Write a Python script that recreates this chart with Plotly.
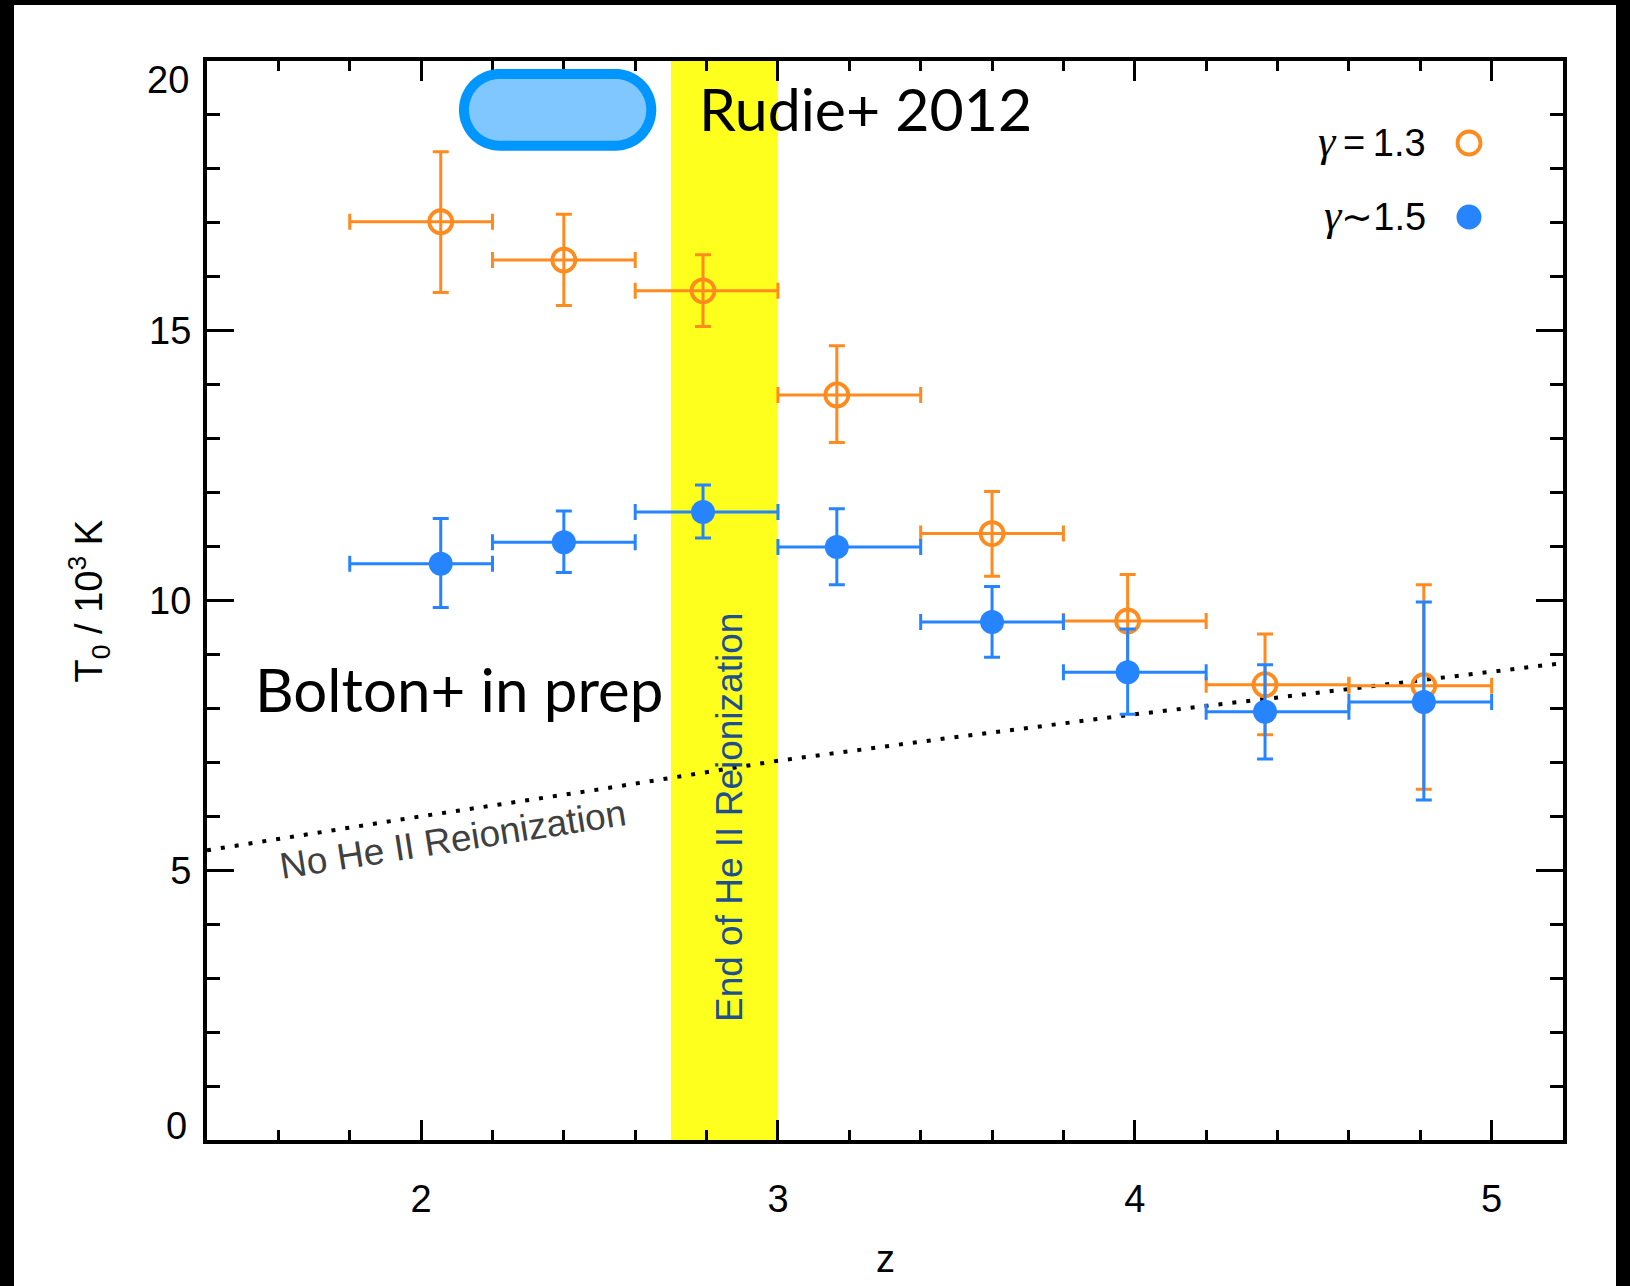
import numpy as np
import plotly.graph_objects as go

# ---------------------------------------------------------------- figure geometry
W, H = 1630, 1286
ML, MR, MT, MB = 207, 67, 61, 146
X_RANGE = [1.4, 5.2]
Y_RANGE = [0, 20]

# ---------------------------------------------------------------- data
# redshift bins
z_lo = [1.8, 2.2, 2.6, 3.0, 3.4, 3.8, 4.2, 4.6]
z_hi = [2.2, 2.6, 3.0, 3.4, 3.8, 4.2, 4.6, 5.0]
z_mean = [2.055, 2.40, 2.79, 3.165, 3.60, 3.98, 4.365, 4.81]

# T0 / 1e3 K for gamma = 1.3
t0_g13 = [17.02, 16.31, 15.74, 13.81, 11.24, 9.62, 8.44, 8.42]
t0_g13_up = [18.32, 17.16, 16.41, 14.72, 12.02, 10.48, 9.38, 10.29]
t0_g13_dn = [15.71, 15.47, 15.08, 12.93, 10.45, 8.79, 7.51, 6.50]

# T0 / 1e3 K for gamma ~ 1.5
t0_g15 = [10.68, 11.08, 11.64, 10.99, 9.60, 8.67, 7.94, 8.12]
t0_g15_up = [11.52, 11.66, 12.14, 11.70, 10.26, 9.47, 8.81, 9.97]
t0_g15_dn = [9.87, 10.52, 11.16, 10.29, 8.95, 7.89, 7.06, 6.30]

# model without He II reionization
model_z = [1.4, 2.0, 2.5, 3.0, 3.5, 4.0, 4.5, 5.0, 5.2]
model_t0 = [5.37, 6.0, 6.5, 7.03, 7.47, 7.89, 8.28, 8.67, 8.84]

# end of He II reionization
band_z = [2.7, 3.0]

# Rudie+ 2012 region
rudie_z = [2.12, 2.645]
rudie_t0 = [18.43, 19.76]

# tick values
x_ticks = [2, 3, 4, 5]
y_ticks = [0, 5, 10, 15, 20]

ORANGE = "#FF8A1E"
BLUE = "#2784FF"
TICK_FONT = "Liberation Sans, Arial, sans-serif"
HUMANIST = "Lato, 'Open Sans', sans-serif"

PW = W - ML - MR
PH = H - MT - MB


def px_x(X):
    return (X - ML) / PW


def px_y(Y):
    return (H - MB - Y) / PH


def stadium_path(z0, z1, t0, t1, n=40):
    sx = PW / (X_RANGE[1] - X_RANGE[0])
    sy = PH / (Y_RANGE[1] - Y_RANGE[0])
    rt = (t1 - t0) / 2
    rz = rt * sy / sx
    tc = (t0 + t1) / 2
    pts = []
    for a in np.linspace(np.pi / 2, -np.pi / 2, n):
        pts.append((z1 - rz + rz * np.cos(a), tc + rt * np.sin(a)))
    for a in np.linspace(-np.pi / 2, -3 * np.pi / 2, n):
        pts.append((z0 + rz + rz * np.cos(a), tc + rt * np.sin(a)))
    return "M " + " L ".join(f"{x:.5f},{y:.5f}" for x, y in pts) + " Z"


zm = np.array(z_mean)
xerr_plus = np.array(z_hi) - zm
xerr_minus = zm - np.array(z_lo)

fig = go.Figure()

# no-reionization model curve
fig.add_trace(go.Scatter(
    x=model_z, y=model_t0, mode="lines",
    line=dict(color="black", width=4, dash="4px,10px"),
    hoverinfo="skip", showlegend=False,
))

# gamma = 1.3, open circles
t13 = np.array(t0_g13)
fig.add_trace(go.Scatter(
    x=z_mean, y=t0_g13, mode="markers", name="γ=1.3",
    marker=dict(symbol="circle-open", size=23, color=ORANGE, line=dict(width=3.8, color=ORANGE)),
    error_y=dict(type="data", symmetric=False, array=np.array(t0_g13_up) - t13,
                 arrayminus=t13 - np.array(t0_g13_dn), color=ORANGE, thickness=3, width=8),
    error_x=dict(type="data", symmetric=False, array=xerr_plus, arrayminus=xerr_minus,
                 color=ORANGE, thickness=3, width=8),
    showlegend=False,
))

# gamma ~ 1.5, filled circles
t15 = np.array(t0_g15)
fig.add_trace(go.Scatter(
    x=z_mean, y=t0_g15, mode="markers", name="γ~1.5",
    marker=dict(symbol="circle", size=24, color=BLUE, line=dict(width=0)),
    error_y=dict(type="data", symmetric=False, array=np.array(t0_g15_up) - t15,
                 arrayminus=t15 - np.array(t0_g15_dn), color=BLUE, thickness=3, width=8),
    error_x=dict(type="data", symmetric=False, array=xerr_plus, arrayminus=xerr_minus,
                 color=BLUE, thickness=3, width=8),
    showlegend=False,
))

shapes = [
    # yellow band
    dict(type="rect", xref="x", yref="paper", x0=band_z[0], x1=band_z[1], y0=0, y1=1,
         fillcolor="#FFFF1E", line=dict(width=0), layer="below"),
    # Rudie+ 2012 region
    dict(type="path", xref="x", yref="y", path=stadium_path(rudie_z[0], rudie_z[1], rudie_t0[0], rudie_t0[1]),
         fillcolor="#80C6FF", line=dict(color="#0096FF", width=10), layer="above"),
    # legend symbols
    dict(type="circle", xref="paper", yref="paper", xsizemode="pixel", ysizemode="pixel",
         xanchor=px_x(1469), yanchor=px_y(143), x0=-11.5, x1=11.5, y0=-11.5, y1=11.5,
         line=dict(color=ORANGE, width=3.8), fillcolor="rgba(0,0,0,0)"),
    dict(type="circle", xref="paper", yref="paper", xsizemode="pixel", ysizemode="pixel",
         xanchor=px_x(1469), yanchor=px_y(217), x0=-12.5, x1=12.5, y0=-12.5, y1=12.5,
         line=dict(width=0), fillcolor=BLUE),
    # dark frame around the page
    dict(type="rect", xref="paper", yref="paper", x0=px_x(-5), x1=px_x(14), y0=px_y(H + 5), y1=px_y(-5),
         fillcolor="black", line=dict(width=0), layer="above"),
    dict(type="rect", xref="paper", yref="paper", x0=px_x(1616), x1=px_x(W + 5), y0=px_y(H + 5), y1=px_y(-5),
         fillcolor="black", line=dict(width=0), layer="above"),
    dict(type="rect", xref="paper", yref="paper", x0=px_x(-5), x1=px_x(W + 5), y0=px_y(5), y1=px_y(-5),
         fillcolor="black", line=dict(width=0), layer="above"),
]

gamma = "<span style=\"font-family:'Liberation Serif', serif;font-size:44px\"><i>γ</i></span>"
LABEL_FONT = dict(family=TICK_FONT, size=38, color="black")
annotations = [
    dict(text="Rudie+ 2012", xref="paper", yref="paper", x=px_x(697), y=px_y(108),
         xanchor="left", yanchor="middle", showarrow=False,
         font=dict(family=HUMANIST, size=59, color="black")),
    dict(text="Bolton+ in prep", xref="paper", yref="paper", x=px_x(253), y=px_y(689),
         xanchor="left", yanchor="middle", showarrow=False,
         font=dict(family=HUMANIST, size=60, color="black")),
    dict(text="No He II Reionization", xref="paper", yref="paper", x=px_x(453), y=px_y(839),
         xanchor="center", yanchor="middle", textangle=-8.9, showarrow=False,
         font=dict(family=TICK_FONT, size=37, color="#404040")),
    dict(text="End of He II Reionization", xref="paper", yref="paper", x=px_x(729), y=px_y(818),
         xanchor="center", yanchor="middle", textangle=-90, showarrow=False,
         font=dict(family=TICK_FONT, size=37, color="#1F4F8F")),
    dict(text=gamma + "\u2009=\u20091.3", xref="paper", yref="paper", x=px_x(1428), y=px_y(142),
         xanchor="right", yanchor="middle", showarrow=False, font=LABEL_FONT),
    dict(text=gamma + "\u223c1.5", xref="paper", yref="paper", x=px_x(1428), y=px_y(216),
         xanchor="right", yanchor="middle", showarrow=False, font=LABEL_FONT),
    # end labels of the T0 axis sit inside the frame span
    dict(text=str(y_ticks[-1]), xref="paper", yref="paper", x=px_x(191), y=px_y(80),
         xanchor="right", yanchor="middle", showarrow=False, font=LABEL_FONT),
    dict(text=str(y_ticks[0]), xref="paper", yref="paper", x=px_x(189), y=px_y(1126),
         xanchor="right", yanchor="middle", showarrow=False, font=LABEL_FONT),
    # axis titles
    dict(text="T<sub>0</sub> / 10<sup>3</sup> K", xref="paper", yref="paper", x=px_x(89), y=0.5,
         xanchor="center", yanchor="middle", textangle=-90, showarrow=False, font=LABEL_FONT),
    dict(text="z", xref="paper", yref="paper", x=0.5, y=px_y(1259),
         xanchor="center", yanchor="middle", showarrow=False, font=LABEL_FONT),
]

axis_common = dict(
    showgrid=False, zeroline=False, showline=True, linewidth=4, linecolor="black",
    mirror="allticks", ticks="inside", tickwidth=3, tickcolor="black",
    tickfont=LABEL_FONT,
)

# inner T0 ticks carry axis labels; the end values are placed as annotations above
y_inner = y_ticks[1:-1]

fig.update_layout(
    width=W, height=H,
    margin=dict(l=ML, r=MR, t=MT, b=MB, pad=0),
    paper_bgcolor="white", plot_bgcolor="rgba(0,0,0,0)",
    showlegend=False,
    xaxis=dict(range=X_RANGE, tickmode="array", tickvals=x_ticks, ticktext=[str(v) for v in x_ticks],
               ticklen=20, ticklabelstandoff=22,
               minor=dict(dtick=0.2, tick0=0, ticklen=10, tickwidth=3, tickcolor="black", ticks="inside"),
               **axis_common),
    yaxis=dict(range=Y_RANGE, tickmode="array", tickvals=y_inner, ticktext=[str(v) for v in y_inner],
               ticklen=27, ticklabelstandoff=4,
               minor=dict(dtick=1, tick0=0, ticklen=13, tickwidth=3, tickcolor="black", ticks="inside"),
               **axis_common),
    shapes=shapes,
    annotations=annotations,
)

fig.write_html("out.html")
